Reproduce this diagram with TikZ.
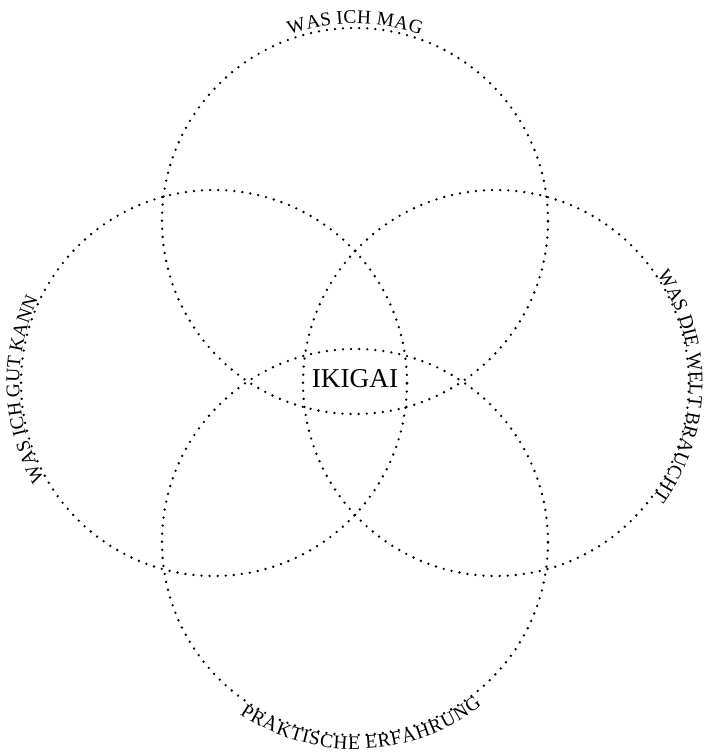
\documentclass[tikz,border=0pt]{standalone}
\usepackage{fontspec}
\setmainfont{Liberation Serif}
\usetikzlibrary{calc,decorations.text}

\newcommand{\circlabel}{\fontsize{11}{13}\selectfont}

\tikzset{
    ring/.style={line width=1.5pt, line cap=round, dash pattern=on 0pt off 4.6pt},
    arclabel/.style={decorate, decoration={text along path, text align=center, raise=#1}}
}

\begin{document}
\begin{tikzpicture}[x=0.02cm, y=0.02cm]
    \useasboundingbox (0,0) rectangle (706,752);
    \foreach \nm/\cx/\cy in {mag/355/531, kann/214/369, welt/496/369, praxis/355/210} {
        \coordinate (\nm) at (\cx,\cy);
        \draw[ring] (\nm) circle (193);
    }
    \node[font=\fontsize{15.5}{17}\selectfont] (ikigai) at (355,373) {IKIGAI};
    % labels along the circles
    \path[arclabel=2.5pt, decoration={text={|\circlabel|WAS ICH MAG}}]
        ($(mag)+(150:193)$) arc (150:30:193);
    \path[arclabel=1pt, decoration={text={|\circlabel|WAS ICH GUT KANN}}]
        ($(kann)+(242:193)$) arc (242:122:193);
    \path[arclabel=0.5pt, decoration={text={|\circlabel|WAS DIE WELT BRAUCHT}}]
        ($(welt)+(59:193)$) arc (59:-61:193);
    \path[arclabel=-8pt, decoration={text={|\circlabel|PRAKTISCHE ERFAHRUNG}}]
        ($(praxis)+(212:193)$) arc (212:332:193);
\end{tikzpicture}
\end{document}
